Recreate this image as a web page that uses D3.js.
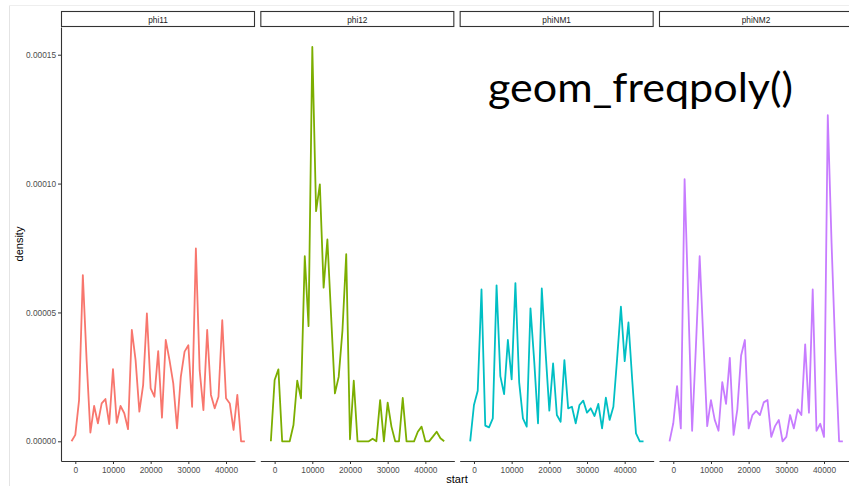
<!DOCTYPE html>
<html>
<head>
<meta charset="utf-8">
<script src="https://cdn.jsdelivr.net/npm/d3@7"></script>
<style>
  body { margin: 0; background: #fff; }
  svg { display: block; }
</style>
</head>
<body>
<div id="chart"></div>
<script>
//Bin centres shared by every facet
const binStarts = [-1000, 0, 1000, 2000, 3000, 4000, 5000, 6000, 7000, 8000, 9000,
    10000, 11000, 12000, 13000, 14000, 15000, 16000, 17000, 18000, 19000,
    20000, 21000, 22000, 23000, 24000, 25000, 26000, 27000, 28000, 29000,
    30000, 31000, 32000, 33000, 34000, 35000, 36000, 37000, 38000, 39000,
    40000, 41000, 42000, 43000, 44000, 45000];

//Facet names
const facetNames = ["phi11", "phi12", "phiNM1", "phiNM2"];

//Density per bin, in units of 1e-5
const phi11 = [0, 0.25, 1.6, 6.45, 3.15, 0.34, 1.37, 0.7, 1.47, 1.64, 0.67, 2.8, 0.72, 1.37, 1.09, 0.47,
    4.32, 3.15, 1.15, 2.18, 4.96, 2.05, 1.73, 3.5, 0.92, 3.93, 3.15, 2.25, 0.5, 2.5, 3.48, 3.73, 1.34,
    7.48, 2.76, 1.21, 4.32, 1.8, 1.28, 1.73, 4.7, 1.67, 1.47, 0.44, 1.8, 0, 0];
const phi12 = [0, 2.38, 2.79, 0, 0, 0, 0.63, 2.35, 1.67, 7.18, 4.47, 15.3, 8.93, 9.97, 5.96, 7.83,
    4.83, 1.86, 2.5, 4.3, 7.26, 0.08, 2.35, 0, 0, 0, 0, 0.1, 0, 1.6, 0, 1.5, 0.57, 0, 0, 1.68,
    0, 0, 0, 0.37, 0.57, 0, 0, 0.18, 0.37, 0.12, 0];
const phiNM1 = [0, 1.41, 1.96, 5.89, 0.61, 0.54, 0.89, 6.05, 2.53, 1.83, 3.93, 2.4, 6.14, 2.29, 0.89, 0.57,
    5.16, 3.09, 0.7, 5.93, 3.48, 1.19, 3.02, 1.02, 0.76, 3.15, 1.28, 1.34, 0.7, 1.41, 1.58, 1.11, 1.28,
    0.98, 1.45, 0.5, 1.69, 0.83, 1.34, 3.22, 5.22, 3.11, 4.61, 2.38, 0.31, 0, 0];
const phiNM2 = [0, 0.7, 2.14, 0.5, 10.17, 5.28, 0.41, 3.67, 7.18, 3.86, 0.59, 1.6, 0.83, 0.41, 2.3, 1.45,
    3.24, 0.25, 1.24, 3.33, 3.93, 0.5, 1.02, 1.18, 1.02, 1.51, 1.6, 0.17, 0.59, 0.83, 0, 0.17, 1.02,
    0.5, 1.24, 1.02, 3.76, 1.11, 5.89, 0.41, 0.68, 0.17, 12.65, 7.7, 3.5, 0, 0];

//Tick values and labels
const xTicks = [0, 10000, 20000, 30000, 40000];
const yTicks = [0, 5, 10, 15];
const yTickLabels = ["0.00000", "0.00005", "0.00010", "0.00015"];

const facetColors = ["#F8766D", "#7CAE00", "#00BFC4", "#C77CFF"];

//Dimensions
const W = 849, H = 486;
const panelLeft = 61, panelTop = 27, panelBottom = 461;
const panelWidth = 194, panelStep = 199.33;

const svg = d3.select("#chart")
    .append("svg")
    .attr("width", W)
    .attr("height", H)
    .style("font-family", "'Liberation Sans', Arial, sans-serif");

svg.append("rect").attr("width", W).attr("height", H).attr("fill", "#fff");

//Slide frame lines
svg.append("line").attr("x1", 9.5).attr("x2", 9.5).attr("y1", 5.5).attr("y2", H)
    .attr("stroke", "#e4e4e4").attr("stroke-width", 1);
svg.append("line").attr("x1", 9.5).attr("x2", W).attr("y1", 5.5).attr("y2", 5.5)
    .attr("stroke", "#eeeeee").attr("stroke-width", 1);

//Scales (x shared by every facet, groups are shifted)
const x = d3.scaleLinear()
    .domain([-3795, 47690])
    .range([0, panelWidth]);

const y = d3.scaleLinear()
    .domain([-0.764, 16.075])
    .range([panelBottom, panelTop]);

const facets = facetNames.map((name, i) => ({
    name: name,
    color: facetColors[i],
    values: [phi11, phi12, phiNM1, phiNM2][i].map((v, j) => ({start: binStarts[j], density: v}))
}));

const line = d3.line()
    .x(d => x(d.start))
    .y(d => y(d.density));

const panel = svg.append("g")
    .selectAll("g")
    .data(facets)
    .join("g")
    .attr("transform", (d, i) => `translate(${panelLeft + i * panelStep}, 0)`);

//Strips
panel.append("rect")
    .attr("x", 0.5)
    .attr("y", 11.5)
    .attr("width", panelWidth - 1)
    .attr("height", 15)
    .attr("fill", "#fff")
    .attr("stroke", "#333")
    .attr("stroke-width", 1.1);

panel.append("text")
    .attr("x", panelWidth / 2)
    .attr("y", 19.5)
    .attr("text-anchor", "middle")
    .attr("dominant-baseline", "central")
    .attr("font-size", "8.3px")
    .attr("fill", "#1a1a1a")
    .text(d => d.name);

//X axis on every facet
panel.append("g")
    .attr("transform", `translate(0, ${panelBottom})`)
    .each(function() {
        d3.select(this).call(d3.axisBottom(x).tickValues(xTicks).tickFormat(d3.format("d"))
            .tickSize(3).tickPadding(3).tickSizeOuter(0));
    })
    .call(g => g.select(".domain").attr("stroke", "#333").attr("stroke-width", 1.1))
    .call(g => g.selectAll(".tick line").attr("stroke", "#333"))
    .call(g => g.selectAll(".tick text").attr("fill", "#4d4d4d").attr("font-size", "8.3px")
        .attr("font-family", "'Liberation Sans', Arial, sans-serif"));

//Y axis only on the first facet
svg.append("g")
    .attr("transform", `translate(${panelLeft}, 0)`)
    .call(d3.axisLeft(y).tickValues(yTicks).tickFormat((d, i) => yTickLabels[i])
        .tickSize(3).tickPadding(2).tickSizeOuter(0))
    .call(g => g.select(".domain").attr("stroke", "#333").attr("stroke-width", 1.1))
    .call(g => g.selectAll(".tick line").attr("stroke", "#333"))
    .call(g => g.selectAll(".tick text").attr("fill", "#4d4d4d").attr("font-size", "8.3px")
        .attr("font-family", "'Liberation Sans', Arial, sans-serif"));

//Frequency polygons
panel.append("path")
    .attr("d", d => line(d.values))
    .attr("fill", "none")
    .attr("stroke", d => d.color)
    .attr("stroke-width", 1.8)
    .attr("stroke-linejoin", "round");

//Axis titles
svg.append("text")
    .attr("x", 457)
    .attr("y", 483)
    .attr("text-anchor", "middle")
    .attr("font-size", "11px")
    .attr("fill", "#000")
    .text("start");

svg.append("text")
    .attr("transform", "translate(23, 244) rotate(-90)")
    .attr("text-anchor", "middle")
    .attr("font-size", "11px")
    .attr("fill", "#000")
    .text("density");

//Slide caption
svg.append("text")
    .attr("x", 488)
    .attr("y", 102)
    .attr("font-family", "Lato, 'Open Sans', sans-serif")
    .attr("font-size", "41px")
    .attr("textLength", 305)
    .attr("lengthAdjust", "spacingAndGlyphs")
    .attr("fill", "#000")
    .text("geom_freqpoly()");
</script>
</body>
</html>
